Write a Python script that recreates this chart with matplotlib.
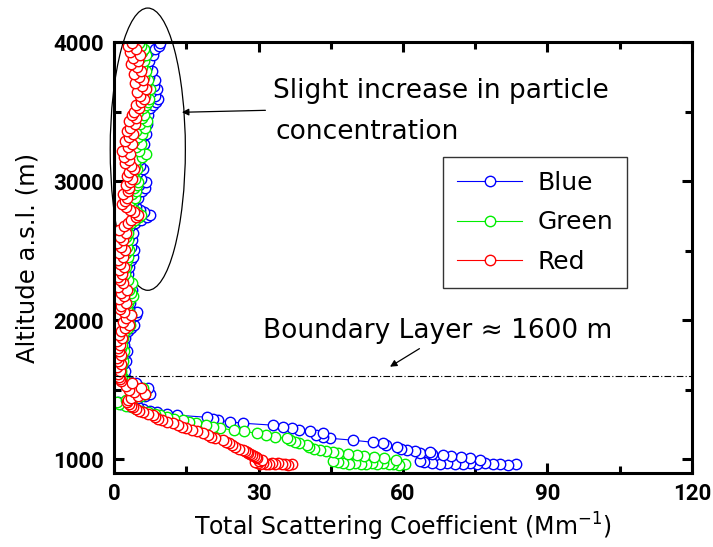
import numpy as np
import matplotlib.pyplot as plt
from matplotlib.patches import Ellipse

# altitude (m) and scattering coefficient (Mm^-1) for the three wavelengths
altitude = [
    965, 962, 968, 964, 970, 966, 972, 963, 969, 975, 967, 971, 978, 985, 995,
    1007, 1014, 1022, 1029, 1036, 1043, 1050, 1058, 1065, 1075, 1086, 1100, 1115,
    1122, 1137, 1151, 1158, 1172, 1187, 1200, 1209, 1223, 1235, 1245, 1259, 1270,
    1280, 1292, 1302, 1317, 1328, 1338, 1350, 1362, 1374, 1386, 1398, 1410, 1425,
    1440, 1455, 1470, 1485, 1500, 1515, 1530, 1547, 1560, 1575,
    1590, 1612, 1635, 1660, 1684, 1707, 1730, 1752, 1778, 1801, 1825, 1850, 1873,
    1897, 1920, 1945, 1968, 1990, 2014, 2036, 2058, 2080, 2104, 2127, 2150, 2172,
    2195, 2218, 2242, 2265, 2288, 2310, 2335, 2358, 2380, 2404, 2432, 2455, 2480,
    2505, 2530, 2555, 2578, 2600, 2626, 2650, 2675, 2698, 2722, 2740, 2760, 2777,
    2795, 2813, 2835, 2858, 2880, 2905, 2928, 2950, 2972, 2995, 3018, 3040, 3063,
    3085, 3108, 3130, 3151, 3175, 3198, 3220, 3245, 3268, 3290, 3315, 3340, 3362,
    3385, 3408, 3430, 3455, 3478, 3500, 3525, 3548, 3570, 3593, 3615, 3638, 3660,
    3683, 3705, 3728, 3750, 3773, 3795, 3818, 3840, 3863, 3885, 3908, 3930, 3952,
    3975, 3992,
]
blue = [
    83.5, 81.8, 80.2, 78.6, 77.0, 75.4, 74.0, 72.4, 70.8, 69.2, 67.6, 66.0, 64.4, 63.5, 76.0,
    74.0, 72.0, 70.0, 68.3, 66.0, 63.5, 65.6, 62.5, 60.8, 59.5, 58.7, 56.5, 55.8,
    53.7, 49.6, 44.8, 43.4, 42.0, 43.4, 40.7, 38.5, 37.0, 35.0, 33.0, 26.8, 24.0,
    21.5, 20.5, 19.3, 13.0, 11.0, 9.0, 7.5, 6.0, 5.0, 3.0, 1.5, 0.8, 3.5,
    5.0, 6.5, 7.5, 6.0, 5.5, 7.0, 5.0, 4.5, 3.0, 2.5,
    2.0, 1.8, 2.2, 1.5, 1.9, 2.4, 1.6, 2.0, 2.6, 1.7, 2.1, 1.5, 2.3,
    1.8, 2.8, 3.5, 4.2, 3.0, 3.6, 4.5, 4.8, 3.2, 2.6, 3.4, 2.8, 3.6,
    3.0, 3.8, 2.5, 3.2, 2.6, 2.2, 2.8, 2.4, 3.0, 2.7, 3.6, 4.0, 3.2,
    4.2, 3.5, 2.6, 3.8, 3.1, 3.9, 2.8, 3.4, 4.4, 5.6, 6.8, 7.4, 6.2,
    5.4, 4.5, 3.6, 4.2, 5.0, 4.6, 5.8, 6.4, 5.2, 6.6, 5.6, 4.6, 5.0,
    6.0, 5.4, 4.4, 5.2, 4.6, 5.8, 4.8, 5.4, 6.2, 5.0, 5.8, 6.6, 5.4,
    6.0, 6.8, 5.6, 6.4, 7.0, 5.8, 7.4, 8.0, 8.8, 9.2, 8.4, 7.6, 9.0,
    8.2, 7.0, 8.6, 7.2, 6.4, 7.8, 6.8, 5.8, 7.2, 6.2, 8.0, 7.0, 8.6,
    9.4, 9.6,
]
green = [
    60.4, 59.2, 58.0, 57.0, 55.8, 54.6, 53.5, 52.4, 51.2, 50.0, 48.8, 47.6, 46.4, 45.4, 58.5,
    56.0, 54.0, 52.0, 50.5, 48.5, 46.5, 45.5, 44.0, 42.7, 41.5, 40.5, 40.0, 38.5,
    37.5, 36.5, 35.9, 33.5, 31.5, 29.7, 27.0, 25.0, 22.0, 20.5, 19.0, 17.0, 15.5,
    14.3, 12.5, 11.0, 9.5, 8.5, 7.0, 5.5, 4.5, 3.8, 2.5, 1.0, 0.6, 2.5,
    4.0, 5.5, 6.5, 5.0, 4.5, 6.0, 4.0, 3.5, 2.2, 2.0,
    1.6, 1.4, 1.5, 1.2, 1.6, 1.8, 1.3, 1.7, 2.0, 1.4, 1.7, 1.1, 1.9,
    1.5, 2.2, 2.8, 3.4, 2.4, 2.9, 3.6, 3.2, 2.6, 2.1, 2.9, 3.4, 4.0,
    3.6, 3.2, 2.8, 3.8, 2.9, 1.8, 2.2, 1.9, 2.4, 2.1, 2.6, 2.9, 2.5,
    3.0, 2.7, 2.0, 2.8, 2.4, 2.9, 2.2, 2.6, 3.5, 4.4, 5.2, 5.6, 4.8,
    4.2, 3.6, 2.8, 3.3, 4.4, 3.8, 4.6, 4.2, 4.8, 5.0, 4.4, 3.8, 4.2,
    4.8, 4.4, 3.6, 4.6, 5.8, 6.6, 5.2, 4.6, 5.6, 4.2, 5.0, 5.8, 4.6,
    6.4, 5.4, 6.8, 5.8, 6.2, 5.0, 6.0, 6.6, 7.0, 7.2, 6.4, 6.0, 7.4,
    6.6, 5.8, 7.0, 6.2, 5.6, 6.6, 5.8, 5.0, 6.2, 5.4, 6.6, 5.8, 6.2,
    5.6, 5.2,
]
red = [
    37.0, 36.2, 35.4, 34.8, 34.0, 33.4, 32.8, 32.2, 31.6, 31.0, 30.4, 29.8, 29.2, 30.0, 30.8,
    29.7, 29.5, 29.0, 28.6, 28.2, 27.8, 27.5, 27.2, 26.8, 26.0, 25.2, 24.5, 23.8,
    23.2, 22.6, 21.0, 20.2, 19.5, 18.5, 17.2, 16.2, 15.0, 14.0, 13.2, 12.2, 11.0,
    10.0, 9.2, 8.6, 8.0, 7.0, 6.0, 5.2, 4.6, 4.0, 3.5, 3.0, 2.6, 2.8,
    3.5, 5.0, 6.5, 4.2, 3.0, 5.5, 2.5, 3.8, 1.5, 1.2,
    1.0, 0.8, 1.2, 0.6, 1.4, 0.9, 0.7, 1.5, 1.0, 0.8, 1.3, 0.6, 1.6,
    1.1, 1.4, 2.2, 3.2, 1.8, 2.5, 3.5, 2.0, 1.2, 1.5, 2.4, 1.0, 2.0,
    1.4, 2.6, 0.8, 1.8, 1.2, 0.9, 1.6, 1.1, 2.0, 1.3, 0.8, 1.8, 1.0,
    2.2, 1.5, 0.7, 1.9, 1.2, 2.4, 1.1, 2.0, 2.8, 3.6, 4.6, 5.0, 4.2,
    3.4, 2.4, 1.6, 2.2, 2.6, 1.8, 2.8, 3.2, 2.4, 3.4, 3.8, 2.6, 3.0,
    4.2, 3.6, 2.2, 3.0, 2.0, 3.4, 1.6, 2.8, 3.8, 2.2, 3.2, 4.0, 2.6,
    3.4, 4.4, 3.0, 4.6, 3.8, 4.2, 5.2, 4.6, 5.6, 6.2, 5.4, 4.8, 6.6,
    5.8, 4.4, 6.0, 5.2, 4.2, 5.6, 4.8, 3.6, 5.0, 4.0, 5.4, 3.4, 4.6,
    2.8, 3.8,
]

series = [("Blue", blue, "#0000FF"), ("Green", green, "#00EE00"), ("Red", red, "#FF0000")]
boundary_layer = 1600

fig, ax = plt.subplots(figsize=(7.13, 5.47), dpi=100)
fig.subplots_adjust(left=0.160, right=0.9705, bottom=0.135, top=0.923)

for name, vals, col in series:
    ax.plot(vals, altitude, color=col, lw=0.8, marker="o", ms=7.5,
            mfc="white", mec=col, mew=1.0, label=name)

ax.axhline(boundary_layer, color="black", lw=0.8, ls=(0, (6, 2, 1, 2)))

ax.set_xlim(0, 120)
ax.set_ylim(900, 4000)
ax.set_xticks([0, 30, 60, 90, 120])
ax.set_xticks([15, 45, 75, 105], minor=True)
ax.set_yticks([1000, 2000, 3000, 4000])
ax.set_yticks([1500, 2500, 3500], minor=True)
ax.tick_params(which="both", direction="in", top=True, right=True, width=2.2)
ax.tick_params(which="major", length=7, pad=7)
ax.tick_params(which="minor", length=5)
for spine in ax.spines.values():
    spine.set_linewidth(2.2)
for lab in ax.get_xticklabels() + ax.get_yticklabels():
    lab.set_fontfamily("Roboto")
    lab.set_fontweight("bold")
    lab.set_fontsize(16)

ax.set_xlabel("Total Scattering Coefficient (Mm$^{-1}$)", fontsize=17, labelpad=4)
ax.set_ylabel("Altitude a.s.l. (m)", fontsize=17.5, labelpad=10)

# ellipse around the upper layer
ell = Ellipse((7.0, 3230), width=15.6, height=2030, fill=False, ec="black", lw=0.9, clip_on=False)
ax.add_patch(ell)
ax.annotate("", xy=(13.5, 3495), xytext=(32, 3510),
            arrowprops=dict(arrowstyle="-|>", color="black", lw=0.9, mutation_scale=10))
ax.text(33, 3645, "Slight increase in particle", fontsize=19, va="center")
ax.text(33.5, 3355, "concentration", fontsize=19, va="center")

ax.annotate("", xy=(56.8, 1655), xytext=(63.9, 1806),
            arrowprops=dict(arrowstyle="-|>", color="black", lw=0.9, mutation_scale=10))
ax.text(31, 1925, "Boundary Layer \u2248 1600 m", fontsize=19, va="center")

leg = ax.legend(loc="upper left", bbox_to_anchor=(0.57, 0.733), fontsize=18, frameon=True,
                fancybox=False, edgecolor="black", handlelength=2.6, handletextpad=0.6,
                borderpad=0.55, labelspacing=0.62, borderaxespad=0)
leg.get_frame().set_linewidth(1.0)

plt.savefig("out.png", dpi=100)
